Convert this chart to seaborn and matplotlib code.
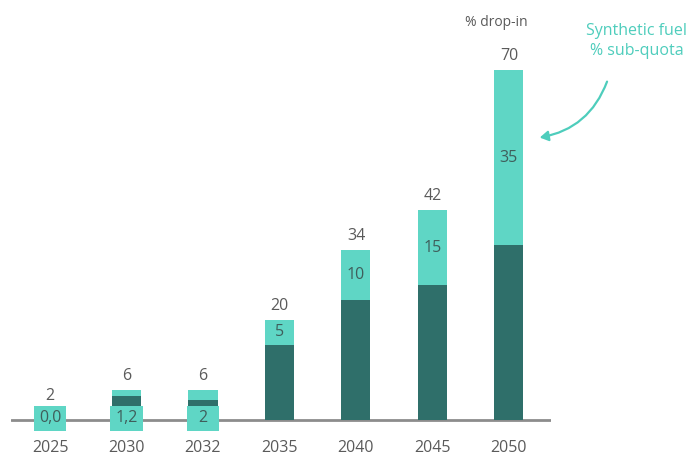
import matplotlib
matplotlib.use("Agg")
import matplotlib.pyplot as plt
import seaborn as sns
import pandas as pd

# Drop-in fuel quota by year and the synthetic fuel sub-quota (%)
years = ["2025", "2030", "2032", "2035", "2040", "2045", "2050"]
drop_in_total = [2, 6, 6, 20, 34, 42, 70]
synthetic_quota = [0.0, 1.2, 2, 5, 10, 15, 35]
# Years whose sub-quota label sits in a tag on the baseline
small_years = ["2025", "2030", "2032"]

LIGHT = "#5fd6c5"
DARK = "#2f6f6a"
GREY_TEXT = "#5a5a5a"
LABEL_TEXT = "#3f5e5b"
ACCENT = "#4ecdbc"

df = pd.DataFrame({"year": years, "total": drop_in_total, "synthetic": synthetic_quota})
df["other"] = df["total"] - df["synthetic"]


def fmt(v):
    if v == 0 or v % 1:
        return f"{v:.1f}".replace(".", ",")
    return f"{v:g}"


sns.set_theme(style="white")
plt.rcParams["font.family"] = ["Open Sans", "DejaVu Sans"]

fig = plt.figure(figsize=(6.9, 4.58), dpi=100)
ax = fig.add_axes([11 / 690, 26 / 458, 540 / 690, 432 / 458])

# Stacked bars: full drop-in share in light, non-synthetic share in dark below
sns.barplot(data=df, x="year", y="total", color=LIGHT, saturation=1,
            width=0.38, errorbar=None, ax=ax, zorder=2, linewidth=0,
            edgecolor="none")
sns.barplot(data=df, x="year", y="other", color=DARK, saturation=1,
            width=0.38, errorbar=None, ax=ax, zorder=3, linewidth=0,
            edgecolor="none")

ax.set_xlim(-0.51, 6.55)
ax.set_ylim(-2.4, 84)
ax.axhline(0, color="#8c8c8c", lw=2, zorder=1)

for sp in ax.spines.values():
    sp.set_visible(False)
ax.set_yticks([])
ax.set_xlabel("")
ax.set_ylabel("")
ax.tick_params(axis="x", length=0, pad=6, labelsize=11.5, labelcolor=GREY_TEXT)

for i, row in df.iterrows():
    # total drop-in value above each bar
    ax.annotate(f"{row.total:g}", (i, row.total), xytext=(0, 4.5),
                textcoords="offset points", ha="center", va="bottom",
                fontsize=11.5, color=GREY_TEXT)
    if row.year in small_years:
        # tag on the baseline carrying the sub-quota value
        ax.bar(i, 5.1, bottom=-2.2, width=0.43, color=LIGHT, linewidth=0,
               zorder=4)
        ax.text(i, 0.35, fmt(row.synthetic), ha="center", va="center",
                fontsize=11.5, color=LABEL_TEXT, zorder=5)
    else:
        ax.text(i, row.other + row.synthetic / 2, fmt(row.synthetic),
                ha="center", va="center", fontsize=11.5, color=LABEL_TEXT,
                zorder=5)

ax.text(5.83, 79.6, "% drop-in", ha="center", va="center", fontsize=10,
        color=GREY_TEXT)

fig.text(637 / 690, 1 - 31 / 458, "Synthetic fuel", ha="center", va="center",
         fontsize=11.5, color=ACCENT)
fig.text(637 / 690, 1 - 51 / 458, "% sub-quota", ha="center", va="center",
         fontsize=11.5, color=ACCENT)
fig.patches.append(matplotlib.patches.FancyArrowPatch(
    (608 / 690, 1 - 79 / 458), (537 / 690, 1 - 138 / 458),
    transform=fig.transFigure, connectionstyle="arc3,rad=-0.3",
    arrowstyle="-|>,head_length=5,head_width=3", color=ACCENT, lw=1.6,
    mutation_scale=1))

fig.savefig("out.png", dpi=100, facecolor="white")
